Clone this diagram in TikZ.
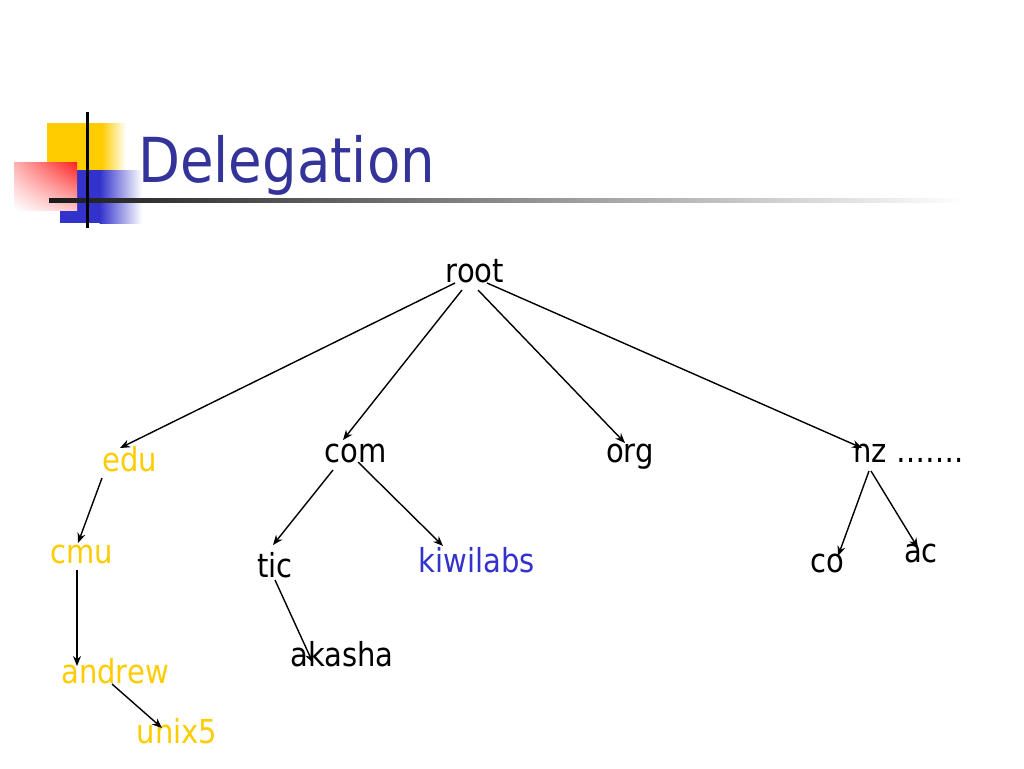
\documentclass[tikz,border=0pt]{standalone}
\usepackage{fontspec}
\setmainfont{DejaVu Sans}[FakeStretch=0.88]
\usetikzlibrary{arrows.meta,calc,shadings}
\definecolor{ttl}{HTML}{333399}
\definecolor{yel}{HTML}{FFCC00}
\definecolor{kiwi}{HTML}{3333CC}
\definecolor{lgblue}{HTML}{3333CC}
\definecolor{lgred}{HTML}{FF2020}
\begin{document}
\begin{tikzpicture}[x=1pt,y=-1pt,
  lbl/.style={anchor=base,inner sep=0pt,font=\fontsize{33}{33}\selectfont,text=black},
  yl/.style={lbl,text=yel},
  arr/.style={-{Stealth[length=10pt,width=8pt]},line width=1.4pt,black}]
\useasboundingbox (0,0) rectangle (1024,768);
\fill[white] (0,0) rectangle (1024,768);
% logo
\fill[yel] (47,123) rectangle (102,185);
\shade[left color=yel,right color=white] (101.5,123) rectangle (126,185);
\fill[lgblue] (60,170) rectangle (100,223);
\shade[left color=lgblue,right color=white] (99.5,170) rectangle (142,223);
\shade[upper left=lgred!35,upper right=lgred,lower left=white,lower right=lgred!25] (14,162) rectangle (77,210);
\shade[left color=black!90,right color=white] (49,198) rectangle (965,202.5);
\draw[line width=3pt,black] (87,112) -- (87,228);
% title
\node[anchor=base west,inner sep=0pt,text=ttl,font=\fontsize{62}{62}\selectfont] (title) at (138,182) {Delegation};
% nodes
\node[lbl] (root) at (475,282) {root};
\node[yl] (edu) at (130,471) {edu};
\node[lbl] (com) at (356,462) {com};
\node[lbl] (org) at (630,462) {org};
\node[lbl] (nz) at (870,462) {nz};
\node[lbl,anchor=base west] (dots) at (896,462) {…….};
\node[yl] (cmu) at (82,563) {cmu};
\node[lbl] (tic) at (275,577) {tic};
\node[lbl,text=kiwi] (kiwilabs) at (477,572) {kiwilabs};
\node[lbl] (co) at (827,572) {co};
\node[lbl] (ac) at (921,562) {ac};
\node[yl] (andrew) at (115,683) {andrew};
\node[lbl] (akasha) at (342,666) {akasha};
\node[yl] (unix5) at (177,743) {unix5};
% connectors
\draw[arr] ($(root.base)+(-20,1)$) -- ($(edu.base)+(-10,-23)$);
\draw[arr] ($(root.base)+(-13,8)$) -- ($(com.base)+(-13,-22)$);
\draw[arr] ($(root.base)+(3,8)$) -- ($(org.base)+(-5,-19)$);
\draw[arr] ($(root.base)+(12,1)$) -- ($(nz.base)+(-8,-14)$);
\draw[arr] ($(edu.base)+(-28,7)$) -- ($(cmu.base)+(-4,-20)$);
\draw[arr] ($(cmu.base)+(-5,7)$) -- ($(andrew.base)+(-38,-17)$);
\draw[arr] ($(andrew.base)+(-3,1)$) -- ($(unix5.base)+(-15,-15)$);
\draw[arr] ($(com.base)+(-23,8)$) -- ($(tic.base)+(-2,-32)$);
\draw[arr] ($(com.base)+(2,0)$) -- ($(kiwilabs.base)+(-34,-26)$);
\draw[arr] ($(tic.base)+(0,3)$) -- ($(akasha.base)+(-29,-3)$);
\draw[arr] ($(nz.base)+(-1,9)$) -- ($(co.base)+(11,-16)$);
\draw[arr] ($(nz.base)+(1,9)$) -- ($(ac.base)+(-3,-14)$);
\end{tikzpicture}
\end{document}
